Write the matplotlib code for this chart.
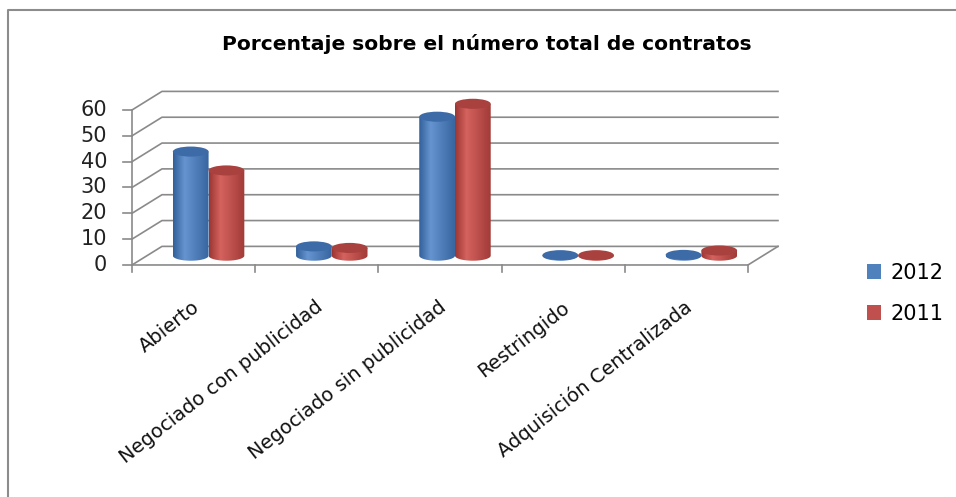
#!/usr/bin/env python
"""Porcentaje sobre el número total de contratos: 3D-style cylinder bars."""
import numpy as np
import matplotlib
matplotlib.use("Agg")
import matplotlib.pyplot as plt
from matplotlib.patches import Ellipse, PathPatch, Patch
from matplotlib.lines import Line2D
from matplotlib.path import Path
from matplotlib.colors import to_rgb

categories = ["Abierto", "Negociado con publicidad", "Negociado sin publicidad",
              "Restringido", "Adquisición Centralizada"]
series_names = ["2012", "2011"]
values_2012 = [40.3, 3.6, 53.8, 0.2, 0.3]
values_2011 = [33.0, 3.0, 58.8, 0.2, 2.0]
y_ticks = [0, 10, 20, 30, 40, 50, 60]
title = "Porcentaje sobre el número total de contratos"

# look
GRID = "#8a8a8a"
DX, DY = 0.2435, 7.2        # depth offset of the back wall (data units)
BAR_W = 0.29
CAP_H = 3.9
styles = {
    "2012": dict(dark="#31609a", light="#6594d0", top="#3d6ba8", legend="#4f81bd"),
    "2011": dict(dark="#9c3633", light="#d5625e", top="#a9413e", legend="#c0504d"),
}

fig = plt.figure(figsize=(9.56, 4.97), dpi=100)
ax = fig.add_axes([0.11873, 0.44085, 0.72166, 0.40020])
ax.set_axis_off()
ncat = len(categories)

# walls: gridlines on side wall + back wall
for v in y_ticks:
    ax.plot([0, DX, ncat + DX], [v, v + DY, v + DY], color=GRID, lw=1.2,
            zorder=1, clip_on=False)
    ax.plot([-0.073, 0], [v, v], color=GRID, lw=1.2, zorder=1, clip_on=False)
    ax.text(-0.2, v, str(v), ha="right", va="center", fontsize=15,
            color="#222222")
ax.plot([0, 0], [y_ticks[0], y_ticks[-1]], color=GRID, lw=1.2, zorder=1)
# floor
ax.plot([0, ncat, ncat + DX], [0, 0, DY], color=GRID, lw=1.2, zorder=1,
        clip_on=False)
for i in range(ncat + 1):
    ax.plot([i, i], [0, -2.7], color=GRID, lw=1.2, zorder=1, clip_on=False)


def shade(dark, light, n=64):
    d = np.array(to_rgb(dark))
    l = np.array(to_rgb(light))
    t = np.linspace(0, 1, n)
    k = np.interp(t, [0, 0.32, 1], [0, 1, 0.1])
    return (d[None, :] + (l - d)[None, :] * k[:, None])[None, :, :]


def cylinder(cx, base, height, st, z):
    top = base + height
    th = np.linspace(np.pi, 2 * np.pi, 40)
    xs = list(cx + BAR_W / 2 * np.cos(th)) + [cx + BAR_W / 2, cx - BAR_W / 2]
    ys = list(base + CAP_H / 2 * np.sin(th)) + [top, top]
    verts = list(zip(xs, ys)) + [(xs[0], ys[0])]
    codes = [Path.MOVETO] + [Path.LINETO] * (len(verts) - 2) + [Path.CLOSEPOLY]
    clip = PathPatch(Path(verts, codes), transform=ax.transData)
    im = ax.imshow(shade(st["dark"], st["light"]), aspect="auto",
                   extent=(cx - BAR_W / 2, cx + BAR_W / 2,
                           base - CAP_H / 2, top), zorder=z)
    im.set_clip_path(clip)
    ax.add_patch(Ellipse((cx, top), BAR_W, CAP_H, facecolor=st["top"],
                         edgecolor="none", zorder=z + 0.1))


for i in range(ncat):
    mid = i + 0.5 + DX / 2
    cylinder(mid - BAR_W / 2, DY / 2, values_2012[i], styles["2012"], 3)
    cylinder(mid + BAR_W / 2, DY / 2, values_2011[i], styles["2011"], 4)
    ax.text(i + 0.53, -15.5, categories[i], rotation=38, rotation_mode="anchor",
            ha="right", va="center", fontsize=14, color="#111111")

ax.set_xlim(-0.15, 5.45)
ax.set_ylim(-5, 72)

handles = [Patch(facecolor=styles[s]["legend"], edgecolor="none")
           for s in series_names]
fig.legend(handles, series_names, loc="upper left",
           bbox_to_anchor=(848 / 956, 1 - 244 / 497), frameon=False,
           fontsize=15, handlelength=0.7, handleheight=0.7,
           handletextpad=0.45, labelspacing=1.0)

fig.text(487 / 956, 1 - 44 / 497, title, ha="center", va="center",
         fontsize=14.6, fontweight="bold")

# chart area border (only top and left edges fall inside the picture)
fig.add_artist(Line2D([8 / 956, 8 / 956, 1.0], [0.0, 1 - 10 / 497, 1 - 10 / 497],
                      transform=fig.transFigure, color="#8c8c8c", lw=1.5))

fig.savefig("out.png", dpi=100)
